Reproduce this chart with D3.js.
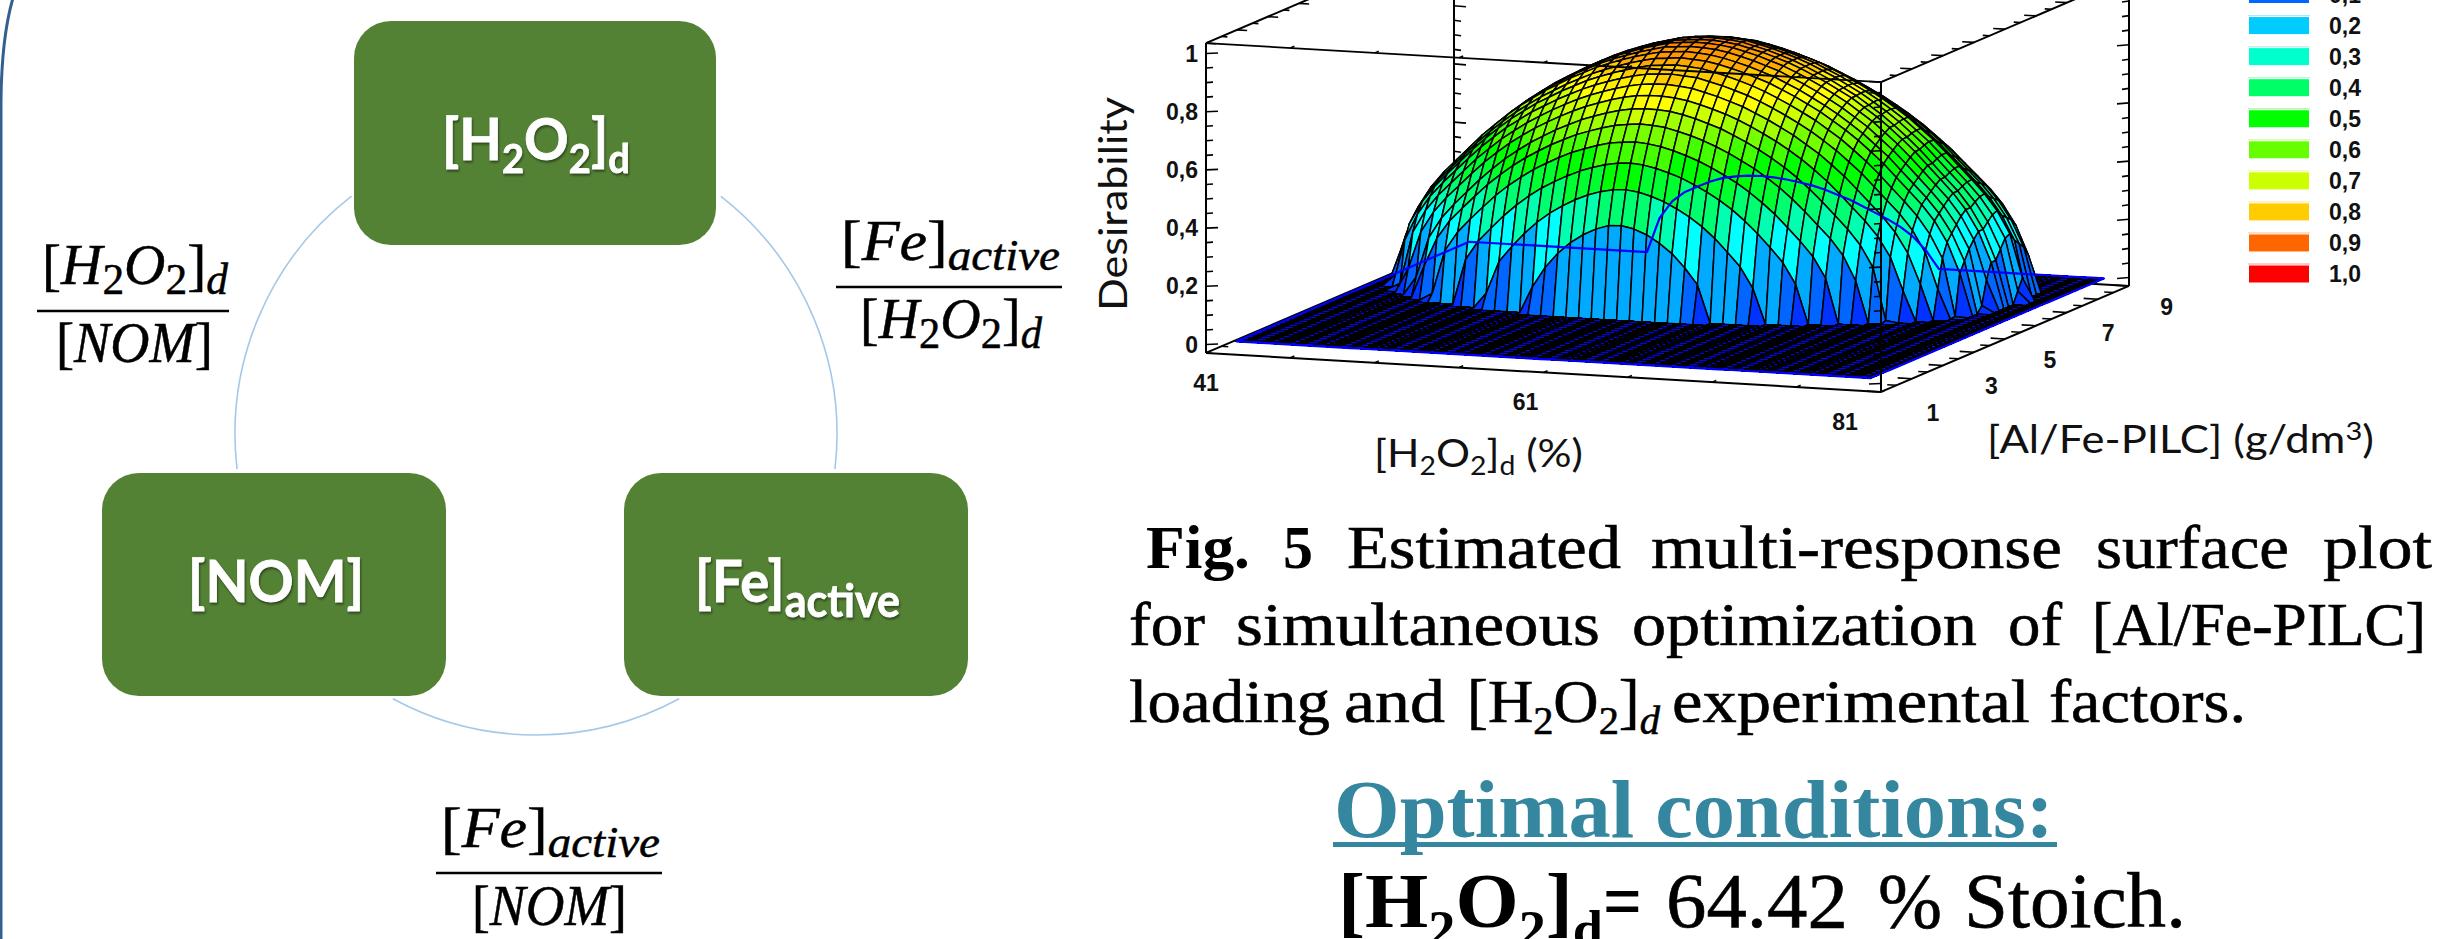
<!DOCTYPE html>
<html><head><meta charset="utf-8">
<script src="https://cdn.jsdelivr.net/npm/d3@7"></script>
<style>html,body{margin:0;padding:0;background:#fff;overflow:hidden}svg{display:block}</style>
</head><body><svg id="c" width="2463" height="939" xmlns="http://www.w3.org/2000/svg"></svg>
<script>
// ---------- chart values ----------
const h2o2Ticks = [41, 61, 81];
const pilcTicks = [1, 3, 5, 7, 9];
const desirabilityTicks = [0, 0.2, 0.4, 0.6, 0.8, 1];
const desirabilityLabels = ['0', '0,2', '0,4', '0,6', '0,8', '1'];
const legendLabels = ['0,1','0,2','0,3','0,4','0,5','0,6','0,7','0,8','0,9','1,0'];
const legendColors = ['#0066ff','#00ccff','#00ffcc','#00ff66','#00ff00','#66ff00','#ccff00','#ffcc00','#ff6600','#ff0000'];
const bandLimits = [0.04,0.1,0.19,0.29,0.36,0.42,0.47,0.53,0.58,0.62,0.66,0.70,0.74,0.77,0.80,0.83,0.85];
const bandColors = ['#0033ff','#0066ff','#00aaff','#00ffff','#00ffb0','#00ff70','#00ff30','#00ff00','#44ff00','#77ff00','#a0ff00','#ccff00','#ffff00','#ffee00','#ffcc00','#ffaa00','#ff9900','#ff8800'];
const flatColor = '#0000ff';

// surface mesh: 51 x 51 nodes; dome rows start at row 20
const meshH2O2First = 42.2, meshH2O2Step = 0.752;
const meshPilcFirst = 1.32, meshPilcStep = 0.1504;
const firstDomeRow = 20;
const rowPeak = [0.32,0.436,0.52,0.586,0.641,0.688,0.727,0.76,0.788,0.812,0.83,0.845,0.856,0.864,0.867,0.868,0.865,0.858,0.849,0.836,0.82,0.80,0.775,0.747,0.712,0.673,0.625,0.57,0.504,0.42];
const rowHalfWidth = [5.4,8.2,10.4,12,13.2,14,14.9,15.6,16.2,16.6,16.9,17.1,17.2,17.3,17.4,17.4,17.5,17.6,17.6,17.4,17.2,17,16.7,16.3,15.8,15.1,14.3,13.2,12,10.4];
const rowCenter = [59.3,59.3,59.4,59.4,59.6,59.8,59.9,60,60.1,60.2,60.3,60.3,60.4,60.5,60.6,60.6,60.7,60.8,60.9,60.9,61,61.1,61.2,61.1,61.1,61.1,61.2,61.2,61.3,61.4];
const archPosition = [0,0.1,0.2,0.3,0.4,0.5,0.6,0.7,0.8,0.85,0.9,0.95,0.98,1];
const archHeight = [1,0.99,0.96,0.92,0.865,0.80,0.72,0.62,0.50,0.44,0.365,0.26,0.16,0];
// last mesh row (the blue back edge), nodes 14..37
const backEdgeFirstNode = 14;
const backEdge = [0,0.12,0.18,0.214,0.235,0.255,0.27,0.278,0.283,0.284,0.282,0.277,0.27,0.262,0.25,0.235,0.22,0.2,0.18,0.16,0.136,0.105,0.06,0];

// ---------- layout ----------
const svg = d3.select('#c');
const SERIF = '"Liberation Serif", serif', SANS = 'Lato, sans-serif', ARIAL = '"Liberation Sans", Arial, sans-serif';

const xScreenX = d3.scaleLinear().domain([41,81]).range([0,675]);
const xScreenY = d3.scaleLinear().domain([41,81]).range([0,39]);
const yScreenX = d3.scaleLinear().domain([1,9]).range([0,248]);
const yScreenY = d3.scaleLinear().domain([1,9]).range([0,-106]);
const zScreenY = d3.scaleLinear().domain([0,1]).range([344.5,53.5]);
const project = (x,y,z) => [1206 + xScreenX(x) + yScreenX(y), zScreenY(z) + xScreenY(x) + yScreenY(y)];
const zLo = -0.029, zHi = 1.0357;
const archScale = d3.scaleLinear().domain(archPosition).range(archHeight).clamp(true);
const bandScale = d3.scaleThreshold().domain(bandLimits).range(bandColors);

// height table from the arrays above
const nodes = d3.range(51), rows = d3.range(51);
const meshX = nodes.map(i => meshH2O2First + i*meshH2O2Step);
const meshY = rows.map(j => meshPilcFirst + j*meshPilcStep);
const zTable = rows.map(j => nodes.map(i => {
  if (j === 50) { const v = backEdge[i-backEdgeFirstNode]; return v === undefined ? 0 : v; }
  const r = j - firstDomeRow;
  if (r < 0 || r >= rowPeak.length) return 0;
  const u = Math.abs(meshX[i]-rowCenter[r]) / rowHalfWidth[r];
  return u >= 1 ? 0 : rowPeak[r]*archScale(u);
}));

// cells, far to near; each cell is one flat colour chosen by its mean height
const cells=[];
for(let j=49;j>=0;j--) for(let i=0;i<50;i++){
  const c=[[i,j],[i+1,j],[i+1,j+1],[i,j+1]];
  const zs=c.map(([a,b])=>zTable[b][a]);
  const flat=zs.every(z=>z<=0);
  cells.push({flat,fill:flat?flatColor:bandScale(d3.mean(zs)),
    d:d3.line()(c.map(([a,b])=>project(meshX[a],meshY[b],zTable[b][a])))+'Z'});
}

const ln = (g,a,b,w=2,col='#000') => g.append('line').attr('x1',a[0]).attr('y1',a[1]).attr('x2',b[0]).attr('y2',b[1]).attr('stroke',col).attr('stroke-width',w);

// ---------- rich-text helper: fits a run of text between two x positions ----------
function fit(x0,x1,y,parts,o){
  const g=svg.append('g');
  const t=g.append('text').attr('x',0).attr('y',0).attr('font-family',o.family).attr('font-size',o.size).attr('fill',o.fill||'#000').attr('font-weight',o.weight||400);
  if(o.filter) t.style('filter',o.filter);
  if(o.strokeWidth) t.attr('stroke',o.fill||'#000').attr('stroke-width',o.strokeWidth);
  let cur=0;
  parts.forEach(p=>{
    const s=t.append('tspan').text(p.t);
    const target=(p.sub?(o.subDrop||o.size*0.2):0);
    if(p.sup) { s.attr('dy',-o.size*0.33-cur); cur=-o.size*0.33; }
    else { s.attr('dy',target-cur); cur=target; }
    if(p.sub||p.sup) s.attr('font-size',o.subSize||o.size*0.68);
    if(p.i) s.attr('font-style','italic');
    if(p.w) s.attr('font-weight',p.w);
  });
  const len=t.node().getComputedTextLength();
  g.attr('transform',`translate(${x0},${y}) scale(${(x1-x0)/len},1)`);
}

// ---------- left panel ----------
svg.append('path').attr('d','M13,-2C6,22 1.5,55 1,100L1,939').attr('fill','none').attr('stroke','#34608f').attr('stroke-width',3);
const arcGen=d3.arc().innerRadius(301).outerRadius(301);
[[37.9,96.7],[151.6,208.4],[263.3,322.2]].forEach(([a,b])=>{
  svg.append('path').attr('transform','translate(536,434)')
    .attr('d',arcGen({startAngle:a*Math.PI/180,endAngle:b*Math.PI/180}))
    .attr('fill','none').attr('stroke','#a6c8e8').attr('stroke-width',1.6);
});
[[354,21,362,224],[102,473,344,223],[624,473,344,223]].forEach(([x,y,w,h])=>{
  svg.append('rect').attr('x',x).attr('y',y).attr('width',w).attr('height',h).attr('rx',37).attr('fill','#548235');
});
const boxFont={family:SANS,size:58,fill:'#fff',weight:700,strokeWidth:0.8,subSize:40,subDrop:13,filter:'drop-shadow(1px 2px 1px rgba(0,0,0,.45))'};
fit(442,630,160,[{t:'[H'},{t:'2',sub:1},{t:'O'},{t:'2',sub:1},{t:']'},{t:'d',sub:1}],boxFont);
fit(188,364,602,[{t:'[NOM]'}],boxFont);
fit(695,900,602,[{t:'[Fe]'},{t:'active',sub:1}],{...boxFont,subDrop:15,subSize:46});

const fracFont={family:SERIF,size:58,subSize:44,subDrop:10,strokeWidth:0.5};
const fH=[{t:'['},{t:'H',i:1},{t:'2',sub:1},{t:'O',i:1},{t:'2',sub:1},{t:']'},{t:'d',sub:1,i:1}];
const fN=[{t:'['},{t:'NOM',i:1},{t:']'}];
const fF=[{t:'['},{t:'Fe',i:1},{t:']'},{t:'active',sub:1,i:1}];
fit(42,228,284,fH,fracFont); ln(svg,[37,311],[229,311],2.5); fit(56,213,362,fN,fracFont);
fit(841,1060,260,fF,fracFont); ln(svg,[836,287],[1062,287],2.5); fit(860,1042,338,fH,fracFont);
fit(441,660,847,fF,fracFont); ln(svg,[436,873],[662,873],2.5); fit(472,627,925,fN,fracFont);

// ---------- 3D frame, back parts ----------
const back=svg.append('g');
const A=project(41,1,zLo),B=project(81,1,zLo),C=project(81,9,zLo),D=project(41,9,zLo);
const At=project(41,1,zHi),Bt=project(81,1,zHi),Ct=project(81,9,zHi),Dt=project(41,9,zHi);
ln(back,A,D); ln(back,D,C); ln(back,C,Ct); ln(back,D,Dt); ln(back,At,Dt); ln(back,Bt,Ct);
const zMinor=d3.range(0,1.0001,0.05);
zMinor.forEach((z,k)=>{
  const maj=k%4===0, len=maj?12:7;
  const d=project(41,9,z); ln(back,d,[d[0]+len,d[1]+1],1.6);
  const c=project(81,9,z); ln(back,c,[c[0]-len,c[1]+1],1.6);
});
d3.range(1,9.01,0.5).forEach((y,k)=>{
  const maj=k%2===0;
  const a=project(41,y,zHi), a2=project(maj?41.6:41.35,y,zHi); ln(back,a,a2,1.6);
  const b=project(81,y,zHi), b2=project(maj?80.3:80.6,y,zHi); ln(back,b,b2,1.6);
  const f=project(41,y,zLo), f2=project(41.4,y,zLo); ln(back,f,f2,1.4);
});

// ---------- surface ----------
const surf=svg.append('g');
surf.selectAll('path.cell').data(cells).join('path').attr('class','cell')
  .attr('d',d=>d.d).attr('fill',d=>d.fill).attr('stroke','#000')
  .attr('stroke-width',d=>d.flat?1.8:1.5).attr('stroke-linejoin','round')
  .attr('shape-rendering',d=>d.flat?'crispEdges':null);

// blue surface outline
const rim=[];
nodes.forEach(i=>rim.push([i,0]));
rows.forEach(j=>rim.push([50,j]));
nodes.slice().reverse().forEach(i=>rim.push([i,50]));
rows.slice().reverse().forEach(j=>rim.push([0,j]));
surf.append('path').attr('d',d3.line()(rim.map(([i,j])=>project(meshX[i],meshY[j],zTable[j][i]))))
  .attr('fill','none').attr('stroke','#0000ff').attr('stroke-width',2.2).attr('stroke-linejoin','round');

// ---------- 3D frame, front parts ----------
const front=svg.append('g');
ln(front,A,B); ln(front,B,C); ln(front,A,At); ln(front,B,Bt); ln(front,At,Bt,1.8);
zMinor.forEach((z,k)=>{
  const maj=k%4===0, len=maj?12:7;
  const a=project(41,1,z); ln(front,a,[a[0]+len,a[1]-0.5],1.6);
  const b=project(81,1,z); ln(front,b,[b[0]-len,b[1]+0.5],1.6);
});
d3.range(41,81.01,5).forEach(x=>{
  ln(front,project(x,1,zLo),project(x,1.13,zLo),1.6);
  ln(front,project(x,1,zHi),project(x,1.13,zHi),1.6);
});
d3.range(1,9.01,0.5).forEach((y,k)=>{
  ln(front,project(81,y,zLo),project(k%2===0?80.15:80.45,y,zLo),1.6);
});

// ---------- tick labels ----------
const tickFont=s=>s.attr('font-family',ARIAL).attr('font-weight',700).attr('font-size',23).attr('fill','#111');
svg.append('g').selectAll('text').data(desirabilityTicks).join('text').call(tickFont)
  .attr('x',d=>project(41,1,d)[0]-8).attr('y',d=>project(41,1,d)[1]+8).attr('text-anchor','end')
  .text((d,i)=>desirabilityLabels[i]);
svg.append('g').selectAll('text').data(h2o2Ticks).join('text').call(tickFont)
  .attr('x',d=>project(d,1,zLo)[0]-(d-41)*0.9).attr('y',d=>project(d,1,zLo)[1]+38).attr('text-anchor','middle').text(d=>d);
svg.append('g').selectAll('text').data(pilcTicks).join('text').call(tickFont)
  .attr('x',d=>project(81,d,zLo)[0]+52-(d-1)*1.8).attr('y',d=>project(81,d,zLo)[1]+29).attr('text-anchor','middle').text(d=>d);

// axis titles
const titleFont={family:SANS,size:39,fill:'#111',subSize:26,subDrop:8};
fit(1374,1583,467,[{t:'[H'},{t:'2',sub:1},{t:'O'},{t:'2',sub:1},{t:']'},{t:'d',sub:1},{t:' (%)'}],titleFont);
fit(1987,2374,453,[{t:'[Al/Fe-PILC] (g/dm'},{t:'3',sup:1},{t:')'}],titleFont);
const tt=svg.append('g').attr('transform','translate(1127,311) rotate(-90)');
const tn=tt.append('text').attr('font-family',SANS).attr('font-size',38).attr('fill','#111').text('Desirability');
tn.attr('textLength',214).attr('lengthAdjust','spacingAndGlyphs');

// legend
const legY=d3.scaleLinear().domain([0,9]).range([-14,265.5]);
const leg=svg.append('g').selectAll('g').data(legendLabels).join('g');
leg.append('rect').attr('x',2249).attr('width',60).attr('y',(d,i)=>legY(i)).attr('height',17).attr('fill',(d,i)=>legendColors[i]);
leg.append('rect').attr('x',2248).attr('width',62).attr('y',(d,i)=>legY(i)-2).attr('height',1).attr('fill',(d,i)=>legendColors[i]).attr('opacity',0.4);
leg.append('text').call(tickFont).attr('x',2329).attr('y',(d,i)=>legY(i)+16.5).text(d=>d);

// ---------- caption ----------
const capFont={family:SERIF,size:62,strokeWidth:0.6};
const capBold={family:SERIF,size:62,weight:700};
const words=[
 [1146,1250,568,'Fig.',1],[1283,1313,568,'5',1],[1347,1621,568,'Estimated'],[1651,2062,568,'multi-response'],[2096,2289,568,'surface'],[2323,2432,568,'plot'],
 [1129,1205,645,'for'],[1236,1600,645,'simultaneous'],[1632,1977,645,'optimization'],[2008,2062,645,'of'],[2092,2426,645,'[Al/Fe-PILC]'],
 [1129,1330,722,'loading'],[1344,1445,722,'and'],[1672,2030,722,'experimental'],[2049,2246,722,'factors.']
];
words.forEach(([a,b,y,t,bold])=>fit(a,b,y,[{t}],bold?capBold:capFont));
fit(1467,1660,722,[{t:'['},{t:'H'},{t:'2',sub:1},{t:'O'},{t:'2',sub:1},{t:']'},{t:'d',sub:1,i:1}],{...capFont,subSize:40,subDrop:12});

fit(1334,2054,837,[{t:'Optimal conditions:'}],{family:SERIF,size:82,weight:700,fill:'#35869f'});
svg.append('rect').attr('x',1333).attr('y',842).attr('width',724).attr('height',5).attr('fill','#35869f');

fit(1338,1603,927,[{t:'[H'},{t:'2',sub:1},{t:'O'},{t:'2',sub:1},{t:']'},{t:'d',sub:1}],{family:SERIF,size:78,weight:700,subSize:52,subDrop:20});
fit(1603,1642,927,[{t:'='}],{family:SERIF,size:78,weight:700});
const bigFont={family:SERIF,size:78,strokeWidth:0.6};
fit(1666,1848,927,[{t:'64.42'}],bigFont);
fit(1878,1942,927,[{t:'%'}],bigFont);
fit(1964,2186,927,[{t:'Stoich.'}],bigFont);
</script></body></html>
